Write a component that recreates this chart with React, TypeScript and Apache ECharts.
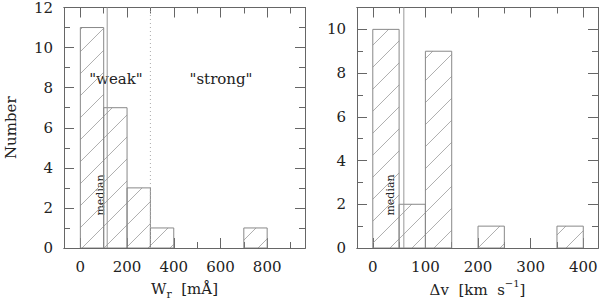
import React, { useEffect, useRef } from "react";
import * as echarts from "echarts";

// ---- data ----
const leftBinStarts = [0, 100, 200, 300, 700];
const leftCounts = [11, 7, 3, 1, 1];
const leftBinWidth = 100;
const leftMedian = 115;
const leftDivider = 300;

const rightBinStarts = [0, 50, 100, 200, 350];
const rightCounts = [10, 2, 9, 1, 1];
const rightBinWidth = 50;
const rightMedian = 59;

const leftXMajor = [0, 200, 400, 600, 800];
const leftXMinor = [100, 300, 500, 700, 900];
const leftYMajor = [0, 2, 4, 6, 8, 10, 12];
const leftYMinor = [1, 3, 5, 7, 9, 11];

const rightXMajor = [0, 100, 200, 300, 400];
const rightXMinor = [50, 150, 250, 350];
const rightYMajor = [0, 2, 4, 6, 8, 10];
const rightYMinor = [1, 3, 5, 7, 9, 11];

const FONT = "DejaVu Serif";
const FRAME = "#666";
const BAR = "#888";
const HATCH = "#9a9a9a";
const HATCH_STEP = 22;

function hatchItem(params: any, api: any) {
  const start = api.value(0);
  const end = api.value(1);
  const count = api.value(2);
  const p0 = api.coord([start, count]);
  const p1 = api.coord([end, 0]);
  const x0 = p0[0], y0 = p0[1], x1 = p1[0], y1 = p1[1];
  const children: any[] = [];
  const cMin = Math.floor((x0 + y0) / HATCH_STEP) * HATCH_STEP;
  const cMax = x1 + y1;
  for (let c = cMin; c <= cMax; c += HATCH_STEP) {
    const xa = Math.max(x0, c - y1);
    const xb = Math.min(x1, c - y0);
    if (xb - xa > 0.5) {
      children.push({
        type: "line",
        shape: { x1: xa, y1: c - xa, x2: xb, y2: c - xb },
        style: { stroke: HATCH, lineWidth: 0.8 },
        silent: true,
      });
    }
  }
  children.push({
    type: "rect",
    shape: { x: x0, y: y0, width: x1 - x0, height: y1 - y0 },
    style: { fill: "none", stroke: BAR, lineWidth: 1 },
  });
  return { type: "group", children };
}

function xAxes(gridIndex: number, min: number, max: number, major: number[], minor: number[], name: any, rich: any) {
  const base = {
    gridIndex,
    type: "value",
    min,
    max,
    splitLine: { show: false },
    axisLine: { show: true, onZero: false, lineStyle: { color: FRAME, width: 1 } },
  };
  return [
    {
      ...base,
      position: "bottom",
      axisTick: { show: true, inside: true, length: 10, customValues: major, lineStyle: { color: FRAME } },
      axisLabel: { show: true, customValues: major, color: "#222", fontFamily: FONT, fontSize: 15, margin: 11 },
      name,
      nameLocation: "middle",
      nameGap: 30,
      nameTextStyle: { color: "#222", fontFamily: FONT, fontSize: 15, rich },
    },
    {
      ...base,
      position: "bottom",
      axisTick: { show: true, inside: true, length: 6, customValues: minor, lineStyle: { color: FRAME } },
      axisLabel: { show: false },
    },
    {
      ...base,
      position: "top",
      axisTick: { show: true, inside: true, length: 10, customValues: major, lineStyle: { color: FRAME } },
      axisLabel: { show: false },
    },
    {
      ...base,
      position: "top",
      axisTick: { show: true, inside: true, length: 6, customValues: minor, lineStyle: { color: FRAME } },
      axisLabel: { show: false },
    },
  ];
}

function yAxes(gridIndex: number, min: number, max: number, major: number[], minor: number[], name: string) {
  const base = {
    gridIndex,
    type: "value",
    min,
    max,
    splitLine: { show: false },
    axisLine: { show: true, onZero: false, lineStyle: { color: FRAME, width: 1 } },
  };
  return [
    {
      ...base,
      position: "left",
      axisTick: { show: true, inside: true, length: 10, customValues: major, lineStyle: { color: FRAME } },
      axisLabel: { show: true, customValues: major, color: "#222", fontFamily: FONT, fontSize: 15, margin: 11 },
      name,
      nameLocation: "middle",
      nameGap: 46,
      nameTextStyle: { color: "#222", fontFamily: FONT, fontSize: 15 },
    },
    {
      ...base,
      position: "left",
      axisTick: { show: true, inside: true, length: 6, customValues: minor, lineStyle: { color: FRAME } },
      axisLabel: { show: false },
    },
    {
      ...base,
      position: "right",
      axisTick: { show: true, inside: true, length: 10, customValues: major, lineStyle: { color: FRAME } },
      axisLabel: { show: false },
    },
    {
      ...base,
      position: "right",
      axisTick: { show: true, inside: true, length: 6, customValues: minor, lineStyle: { color: FRAME } },
      axisLabel: { show: false },
    },
  ];
}

export default function App() {
  const ref = useRef<HTMLDivElement>(null);
  useEffect(() => {
    document.body.style.margin = "0";
    if (!ref.current) return;
    const chart = echarts.init(ref.current, undefined, { renderer: "svg" });

    const rich = {
      a: { fontFamily: FONT, fontSize: 15, color: "#222", lineHeight: 22, verticalAlign: "middle" },
      s: { fontFamily: FONT, fontSize: 11, color: "#222", lineHeight: 11, verticalAlign: "bottom" },
      p: { fontFamily: FONT, fontSize: 10, color: "#222", lineHeight: 10, verticalAlign: "top" },
    };

    const leftData = leftBinStarts.map((s, i) => [s, s + leftBinWidth, leftCounts[i]]);
    const rightData = rightBinStarts.map((s, i) => [s, s + rightBinWidth, rightCounts[i]]);

    const option: any = {
      animation: false,
      backgroundColor: "#fff",
      grid: [
        { left: 64, top: 7.5, width: 241, height: 240.5, outerBoundsMode: "none", containLabel: false },
        { left: 357, top: 7.5, width: 241, height: 240.5, outerBoundsMode: "none", containLabel: false },
      ],
      xAxis: [
        ...xAxes(0, -70, 962, leftXMajor, leftXMinor, "{a|W}{s|r}{a|  [mÅ]}", rich),
        ...xAxes(1, -30, 428, rightXMajor, rightXMinor, "{a|Δv  [km  s}{p|−1}{a|]}", rich),
      ],
      yAxis: [
        ...yAxes(0, 0, 12, leftYMajor, leftYMinor, "Number"),
        ...yAxes(1, 0, 11, rightYMajor, rightYMinor, ""),
      ],
      series: [
        {
          type: "custom",
          xAxisIndex: 0,
          yAxisIndex: 0,
          renderItem: hatchItem,
          data: leftData,
          clip: true,
        },
        {
          type: "line",
          xAxisIndex: 0,
          yAxisIndex: 0,
          data: [[leftMedian, 0], [leftMedian, 12]],
          symbol: "none",
          lineStyle: { color: "#999", width: 1 },
        },
        {
          type: "line",
          xAxisIndex: 0,
          yAxisIndex: 0,
          data: [[leftDivider, 0], [leftDivider, 12]],
          symbol: "none",
          lineStyle: { color: "#aaa", width: 1, type: [1, 3] },
        },
        {
          type: "custom",
          xAxisIndex: 4,
          yAxisIndex: 4,
          renderItem: hatchItem,
          data: rightData,
          clip: true,
        },
        {
          type: "line",
          xAxisIndex: 4,
          yAxisIndex: 4,
          data: [[rightMedian, 0], [rightMedian, 11]],
          symbol: "none",
          lineStyle: { color: "#999", width: 1 },
        },
      ],
      graphic: [
        {
          type: "text",
          x: 116,
          y: 79,
          style: { text: '"weak"', font: `15px "${FONT}"`, fill: "#222", align: "center", verticalAlign: "middle" },
        },
        {
          type: "text",
          x: 221,
          y: 79,
          style: { text: '"strong"', font: `15px "${FONT}"`, fill: "#222", align: "center", verticalAlign: "middle" },
        },
        {
          type: "text",
          x: 100,
          y: 195,
          rotation: Math.PI / 2,
          style: { text: "median", font: `11px "${FONT}"`, fill: "#222", align: "center", verticalAlign: "middle" },
        },
        {
          type: "text",
          x: 390,
          y: 195,
          rotation: Math.PI / 2,
          style: { text: "median", font: `11px "${FONT}"`, fill: "#222", align: "center", verticalAlign: "middle" },
        },
      ],
    };
    chart.setOption(option);
    return () => chart.dispose();
  }, []);
  return <div ref={ref} style={{ width: 600, height: 300 }} />;
}
